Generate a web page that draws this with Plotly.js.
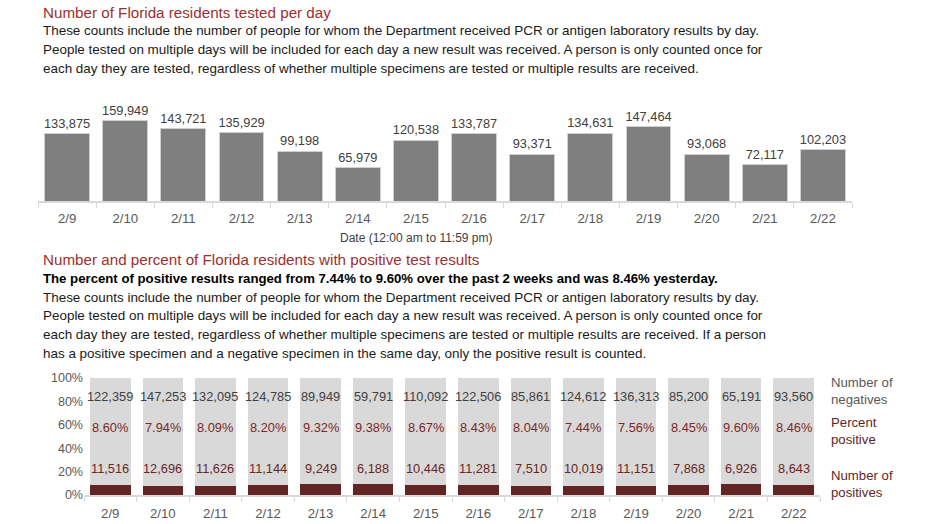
<!DOCTYPE html>
<html>
<head>
<meta charset="utf-8">
<script src="https://cdn.plot.ly/plotly-3.0.1.min.js"></script>
<style>html,body{margin:0;padding:0;background:#fff;}#chart{width:932px;height:524px;}</style>
</head>
<body>
<div id="chart"></div>
<script>
const dates = ["2/9","2/10","2/11","2/12","2/13","2/14","2/15","2/16","2/17","2/18","2/19","2/20","2/21","2/22"];
const tested = [133875,159949,143721,135929,99198,65979,120538,133787,93371,134631,147464,93068,72117,102203];
const negatives = [122359,147253,132095,124785,89949,59791,110092,122506,85861,124612,136313,85200,65191,93560];
const positives = [11516,12696,11626,11144,9249,6188,10446,11281,7510,10019,11151,7868,6926,8643];
const pctPositive = ["8.60%","7.94%","8.09%","8.20%","9.32%","9.38%","8.67%","8.43%","8.04%","7.44%","7.56%","8.45%","9.60%","8.46%"];

const title1 = "Number of Florida residents tested per day";
const title2 = "Number and percent of Florida residents with positive test results";
const boldLine = "The percent of positive results ranged from 7.44% to 9.60% over the past 2 weeks and was 8.46% yesterday.";
const para1 = [
  "These counts include the number of people for whom the Department received PCR or antigen laboratory results by day.",
  "People tested on multiple days will be included for each day a new result was received. A person is only counted once for",
  "each day they are tested, regardless of whether multiple specimens are tested or multiple results are received."
];
const para2 = [
  "These counts include the number of people for whom the Department received PCR or antigen laboratory results by day.",
  "People tested on multiple days will be included for each day a new result was received. A person is only counted once for",
  "each day they are tested, regardless of whether multiple specimens are tested or multiple results are received. If a person",
  "has a positive specimen and a negative specimen in the same day, only the positive result is counted."
];
const xTitle = "Date (12:00 am to 11:59 pm)";

const W = 932, H = 524;
const px = x => x / W;
const py = y => 1 - y / H;

const RED = "#9e2f2d";
const DARKRED = "#632523";
const TXT = "#1a1a1a";
const GRAY = "#595959";
const FONT = "Liberation Sans, Arial, sans-serif";
const NUMFONT = "Liberation Sans, Arial, sans-serif";
const NUMSIZE = 12.8;

const traces = [
  {
    type: "bar", x: dates, y: tested, xaxis: "x", yaxis: "y",
    marker: {color: "#7f7f7f", line: {color: "#d0d0d0", width: 1}},
    text: tested.map(v => v.toLocaleString("en-US")),
    textposition: "outside", cliponaxis: false, constraintext: "none",
    textfont: {family: NUMFONT, size: NUMSIZE, color: "#404040"},
    hoverinfo: "skip", showlegend: false
  },
  {
    type: "bar", x: dates, xaxis: "x2", yaxis: "y2",
    y: positives.map((p, i) => p / (p + negatives[i]) * 100),
    marker: {color: DARKRED, line: {width: 0}}, hoverinfo: "skip", showlegend: false
  },
  {
    type: "bar", x: dates, xaxis: "x2", yaxis: "y2",
    y: negatives.map((n, i) => n / (n + positives[i]) * 100),
    marker: {color: "#d9d9d9", line: {width: 0}}, hoverinfo: "skip", showlegend: false
  }
];

const annotations = [];
function txt(text, x, y, opts) {
  annotations.push(Object.assign({
    text: text, x: px(x), y: py(y), xref: "paper", yref: "paper",
    xanchor: "left", yanchor: "middle", showarrow: false,
    font: {family: FONT, size: 13.45, color: TXT}
  }, opts || {}));
}
txt(title1, 41, 12, {font: {family: FONT, size: 15.2, color: RED}});
para1.forEach((l, i) => txt(l, 41, 30.5 + i * 18.8));
txt(title2, 41, 259.5, {font: {family: FONT, size: 15.2, color: RED}});
txt("<b>" + boldLine + "</b>", 41, 278.5, {font: {family: FONT, size: 13.2, color: "#000"}});
para2.forEach((l, i) => txt(l, 41, 297 + i * 18.9));
txt(xTitle, 416.5, 237.5, {xanchor: "center", font: {family: NUMFONT, size: 12, color: "#404040"}});

txt("Number of<br>negatives", 829, 391, {font: {family: FONT, size: 13.2, color: GRAY}, align: "left"});
txt("Percent<br>positive", 829, 430.5, {font: {family: FONT, size: 13.2, color: DARKRED}, align: "left"});
txt("Number of<br>positives", 829, 483.5, {font: {family: FONT, size: 13.2, color: DARKRED}, align: "left"});

dates.forEach((d, i) => {
  const base = {x: d, xref: "x2", yref: "y2", showarrow: false, xanchor: "center", yanchor: "middle"};
  annotations.push(Object.assign({}, base, {y: 84, text: negatives[i].toLocaleString("en-US"),
    font: {family: NUMFONT, size: NUMSIZE, color: "#404040"}}));
  annotations.push(Object.assign({}, base, {y: 57.3, text: pctPositive[i],
    font: {family: NUMFONT, size: NUMSIZE, color: "#7a2a28"}}));
  annotations.push(Object.assign({}, base, {y: 22.5, text: positives[i].toLocaleString("en-US"),
    font: {family: NUMFONT, size: NUMSIZE, color: "#6b2725"}}));
});

const layout = {
  width: W, height: H,
  margin: {l: 0, r: 0, t: 0, b: 0},
  paper_bgcolor: "#fff", plot_bgcolor: "rgba(0,0,0,0)",
  barmode: "stack", bargap: 0.23,
  showlegend: false,
  xaxis: {
    domain: [px(38), px(852)], anchor: "y", type: "category",
    showline: true, linecolor: "#d9d9d9", linewidth: 1.5,
    ticks: "outside", tickson: "boundaries", ticklen: 5, tickcolor: "#d9d9d9",
    ticklabelstandoff: 5,
    tickfont: {family: NUMFONT, size: 13.2, color: GRAY}, showgrid: false, zeroline: false,
    fixedrange: true
  },
  yaxis: {
    domain: [py(201), py(105)], anchor: "x", range: [0, 191200],
    visible: false, showgrid: false, zeroline: false, fixedrange: true
  },
  xaxis2: {
    domain: [px(84), px(820)], anchor: "y2", type: "category",
    showline: true, linecolor: "#d9d9d9", linewidth: 1.5,
    ticks: "outside", tickson: "boundaries", ticklen: 5, tickcolor: "#d9d9d9",
    ticklabelstandoff: 6,
    tickfont: {family: NUMFONT, size: 13.2, color: GRAY}, showgrid: false, zeroline: false,
    fixedrange: true
  },
  yaxis2: {
    domain: [py(495), py(378)], anchor: "x2", range: [0, 100],
    tickvals: [0, 20, 40, 60, 80, 100], ticktext: ["0%","20%","40%","60%","80%","100%"],
    tickfont: {family: NUMFONT, size: 12.5, color: GRAY},
    showgrid: false, zeroline: false, showline: false, ticks: "", fixedrange: true
  },
  annotations: annotations
};

Plotly.newPlot("chart", traces, layout, {displayModeBar: false, staticPlot: true});
</script>
</body>
</html>
